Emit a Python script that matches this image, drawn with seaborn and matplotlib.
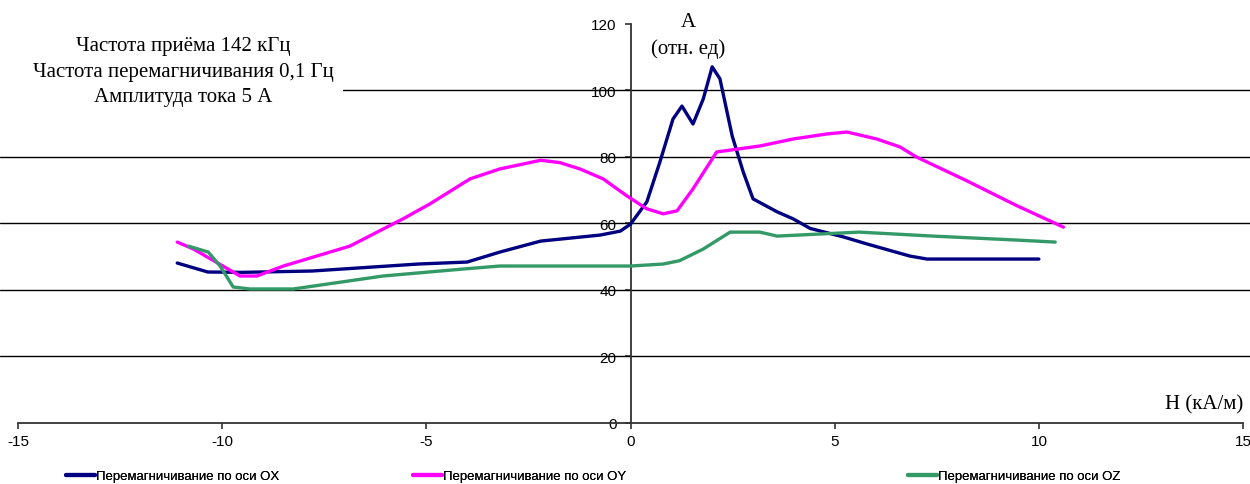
import matplotlib
matplotlib.use("Agg")
import matplotlib.pyplot as plt
import seaborn as sns
from matplotlib.patches import Rectangle
from matplotlib.lines import Line2D

# field strength H (kA/m) and amplitude A (rel. units)
ox_h = [-11.1, -10.35, -9.5, -7.8, -5.2, -4.0, -3.2, -2.2, -0.75, -0.25, 0.0, 0.4, 0.72,
        1.04, 1.26, 1.53, 1.78, 2.0, 2.19, 2.49, 2.76, 3.0, 3.59, 3.98, 4.4, 5.2, 5.8,
        6.84, 7.26, 10.0]
ox_a = [48.1, 45.4, 45.3, 45.7, 47.8, 48.4, 51.4, 54.7, 56.5, 57.7, 59.8, 66.5, 78.5,
        91.4, 95.3, 89.9, 97.4, 107.1, 103.5, 86.3, 75.5, 67.4, 63.5, 61.4, 58.5, 56.0,
        53.8, 50.2, 49.3, 49.3]

oy_h = [-11.1, -10.7, -9.56, -9.15, -8.5, -6.87, -5.57, -4.91, -3.93, -3.2, -2.2, -1.73,
        -1.24, -0.67, -0.09, 0.4, 0.8, 1.14, 1.53, 2.11, 3.17, 3.98, 4.8, 5.3, 6.03, 6.6,
        7.0, 8.24, 9.47, 10.6]
oy_a = [54.4, 52.3, 44.2, 44.2, 47.2, 53.2, 61.4, 65.9, 73.4, 76.4, 79.0, 78.3, 76.4,
        73.4, 68.3, 64.4, 62.9, 63.8, 70.4, 81.5, 83.3, 85.4, 86.9, 87.5, 85.4, 83.0,
        80.0, 72.8, 65.3, 58.9]

oz_h = [-10.83, -10.34, -10.05, -9.73, -9.32, -8.26, -6.06, -4.1, -3.2, 0.0, 0.8, 1.2,
        1.78, 2.44, 3.17, 3.59, 5.6, 7.41, 9.47, 10.4]
oz_a = [53.2, 51.4, 47.2, 40.9, 40.3, 40.3, 44.2, 46.3, 47.2, 47.2, 47.8, 48.8, 52.3,
        57.4, 57.4, 56.2, 57.4, 56.2, 55.0, 54.4]

series_labels = ["Перемагничивание по оси OX", "Перемагничивание по оси OY",
                 "Перемагничивание по оси OZ"]
colors = ["#000080", "#FF00FF", "#339966"]
x_ticks = [-15, -10, -5, 0, 5, 10, 15]
y_ticks = [0, 20, 40, 60, 80, 100, 120]
grid_levels = [20, 40, 60, 80, 100]

sns.set_theme(style="white")
plt.rcParams['font.family'] = ['Liberation Sans', 'DejaVu Sans']
plt.rcParams['axes.unicode_minus'] = False
plt.rcParams['text.color'] = 'black'

fig = plt.figure(figsize=(12.5, 4.85), dpi=100)
ax = fig.add_axes([0, 0.1258, 1, 0.8742])
ax.set_xlim(-15.44, 15.17)
ax.set_ylim(0, 127.5)

for g in grid_levels:
    ax.axhline(g, color="black", lw=1.0, zorder=1)

for h, a, c, lab in zip([ox_h, oy_h, oz_h], [ox_a, oy_a, oz_a], colors, series_labels):
    sns.lineplot(x=h, y=a, color=c, lw=2.4, ax=ax, label=lab, sort=False,
                 legend=False, zorder=3)

# axes crossing at origin
for s in ["top", "right"]:
    ax.spines[s].set_visible(False)
ax.spines["left"].set_position(("data", 0))
ax.spines["bottom"].set_position(("data", 0))
ax.spines["left"].set_bounds(0, 120)
ax.spines["bottom"].set_bounds(-15, 15)
for s in ["left", "bottom"]:
    ax.spines[s].set_color("#333333")
    ax.spines[s].set_linewidth(1.3)
ax.set_xticks(x_ticks)
ax.set_yticks(y_ticks)
ax.tick_params(axis="both", direction="out", length=4, width=1.2, color="#333333",
               labelsize=11, labelcolor="black", bottom=True, left=True)
ax.tick_params(axis="y", pad=6)
ax.tick_params(axis="x", pad=4)

# white box behind the caption hides the grid line
ax.add_patch(Rectangle((0, 0.78), 343 / 1250, 0.2, transform=ax.transAxes,
                       facecolor="white", edgecolor="none", zorder=2))
serif = ['Liberation Serif', 'DejaVu Serif']
fig.text(183 / 1250, 1 - 72 / 485,
         "Частота приёма 142 кГц\nЧастота перемагничивания 0,1 Гц\nАмплитуда тока 5 А",
         ha="center", va="center", fontsize=15, family=serif, linespacing=1.45, zorder=5)
fig.text(688 / 1250, 1 - 36 / 485, "A\n(отн. ед)", ha="center", va="center",
         fontsize=15, family=serif, linespacing=1.5)
fig.text(1204 / 1250, 1 - 405 / 485, "H (кА/м)", ha="center", va="center",
         fontsize=15, family=serif)

# legend entries spread across the bottom
leg_x = [66, 413, 908]
for xp, c, lab in zip(leg_x, colors, series_labels):
    h = Line2D([], [], color=c, lw=3)
    leg = fig.legend(handles=[h], labels=[lab], loc="center left",
                     bbox_to_anchor=(xp / 1250, 1 - 477 / 485), frameon=False,
                     fontsize=9.5, handlelength=2.2, handletextpad=0.1,
                     borderaxespad=0, borderpad=0)
    fig.add_artist(leg)

fig.savefig("out.png", dpi=100)
